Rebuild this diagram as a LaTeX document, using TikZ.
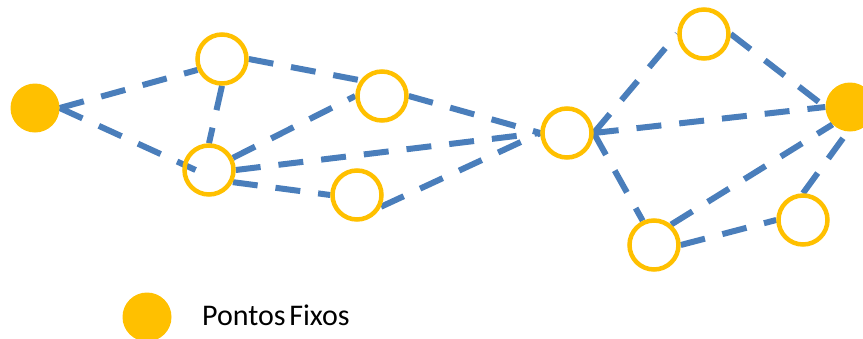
\documentclass[tikz,border=0pt]{standalone}
\usepackage{fontspec}
\setmainfont{Carlito}
\usetikzlibrary{calc,backgrounds}
\definecolor{linkblue}{RGB}{74,126,187}
\definecolor{pointgold}{RGB}{255,192,0}
\begin{document}
\begin{tikzpicture}[x=1pt,y=-1pt,
  free/.style={circle,draw=pointgold,line width=4.5pt,minimum size=49pt,inner sep=0pt},
  fixed/.style={circle,fill=pointgold,minimum size=49pt,inner sep=0pt},
  link/.style={draw=linkblue,line width=6pt,dash pattern=on 25pt off 18pt}]
\useasboundingbox (0,0) rectangle (863,338);

% fixed points
\node[fixed] (A) at (35,108) {};
\node[fixed] (H) at (850,107) {};

% free points
\node[free] (B) at (222,59) {};
\node[free] (C) at (382,96) {};
\node[free] (D) at (209,170) {};
\node[free] (E) at (357,195) {};
\node[free] (F) at (567,133) {};
\node[free] (G) at (704,34) {};
\node[free] (I) at (654,245) {};
\node[free] (J) at (803,220) {};

% links between points
\begin{pgfonlayer}{background}
  \draw[link] (A.east) -- (B.204);
  \draw[link] (A.east) -- ($(D.west)!0.5!(D.center)$);
  \draw[link] (B.south) -- (D.north);
  \draw[link] (B.east) -- (C.144);
  \draw[link] (D.27) -- (C.west);
  \draw[link] (D.east) -- (F.west);
  \draw[link] (D.-27) -- (E.west);
  \draw[link] (E.-26) -- (F.west);
  \draw[link] (C.east) -- (F.west);
  \draw[link] (F.east) -- (G.west);
  \draw[link] (F.east) -- (H.west);
  \draw[link] (F.east) -- (I.115);
  \draw[link] (G.east) -- (H.west);
  \draw[link] (I.50) -- (H.225);
  \draw[link] (J.north) -- (H.265);
  \draw[link] (I.east) -- (J.west);
\end{pgfonlayer}

% legend
\node[fixed] (key) at (147,317) {};
\node[anchor=base west,inner sep=0pt,font=\fontsize{30}{36}\selectfont] (keytext) at (202,325) {Pontos\hspace{0.12em}Fixos};
\end{tikzpicture}
\end{document}
